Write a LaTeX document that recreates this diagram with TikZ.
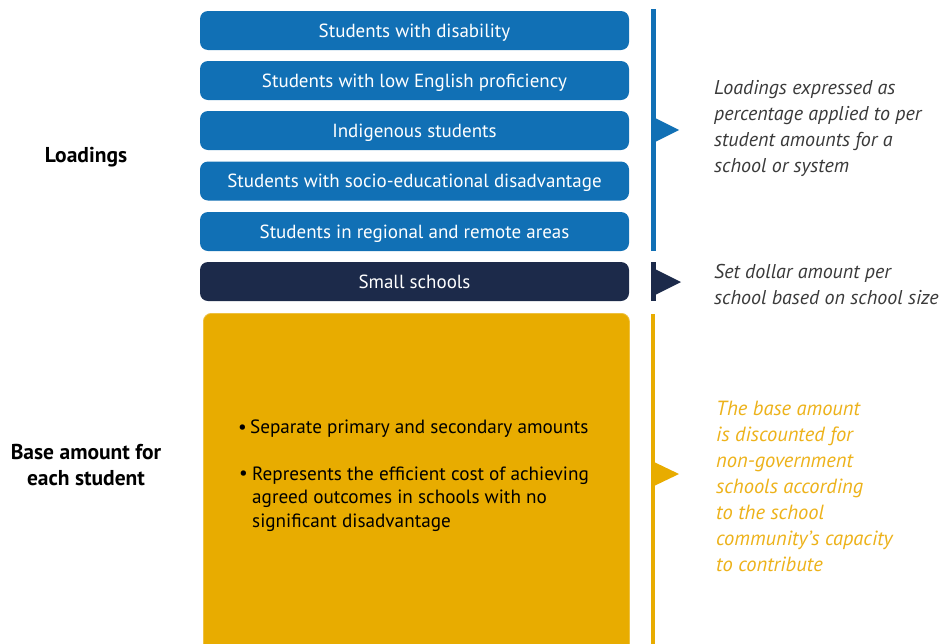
\documentclass[tikz,border=0pt]{standalone}
\usepackage{fontspec}
\setmainfont{PT Sans}
\definecolor{lblue}{HTML}{1170B5}
\definecolor{navy}{HTML}{1C2A4A}
\definecolor{yel}{HTML}{E8AC00}
\definecolor{yeltext}{HTML}{EDB21A}
\definecolor{graytext}{HTML}{3A3A3A}
\begin{document}
\begin{tikzpicture}[x=1pt,y=-1pt,
  bbox/.style={fill=lblue, rounded corners=8pt, minimum width=429pt, minimum height=39pt,
    text=white, font=\fontsize{19}{22}\selectfont, inner sep=0pt, text depth=0pt},
  nbox/.style={bbox, fill=navy},
  lab/.style={font=\fontsize{21.5}{26}\selectfont\bfseries, align=center, text=black},
  note/.style={font=\fontsize{20}{26}\selectfont\itshape, align=left, anchor=west, inner sep=0pt},
  btext/.style={font=\fontsize{19.2}{23.5}\selectfont, align=left, text=black, inner sep=0pt}]
\clip (0,0) rectangle (947,643);
\fill[white] (0,0) rectangle (947,643);
% loading boxes
\node[bbox] (b1) at (414.5,30.5) {Students with disability};
\node[bbox] (b2) at (414.5,80.5) {Students with low English proficiency};
\node[bbox] (b3) at (414.5,130.5) {Indigenous students};
\node[bbox] (b4) at (414.5,181) {Students with socio-educational disadvantage};
\node[bbox] (b5) at (414.5,231.5) {Students in regional and remote areas};
\node[nbox] (b6) at (414.5,281.5) {Small schools};
% base box
\node[fill=yel, draw=yel!75!white, line width=0.8pt, rounded corners=8pt, minimum width=426pt, minimum height=360pt, anchor=north west, inner sep=0pt] (base) at (203,313) {};
\node[btext, anchor=west] (t1) at (238,429) {•\,Separate primary and secondary amounts};
\node[btext, anchor=north west] (t2) at (252,466.5) {Represents the efficient cost of achieving\\agreed outcomes in schools with no\\significant disadvantage};
\node[btext, anchor=west] (t2b) at (239,475) {•};
% left labels
\node[lab] (l1) at (86,157) {Loadings};
\node[lab] (l2) at (86,465) {Base amount for\\each student};
% bars and pointers
\fill[lblue] (651,9) rectangle (656,251);
\fill[lblue] (655,118) -- (679,130) -- (655,142) -- cycle;
\fill[navy] (651,262) rectangle (656,301);
\fill[navy] (655,269) -- (681,282) -- (655,295) -- cycle;
\fill[yel] (651,314) rectangle (655,650);
\fill[yel] (654,462) -- (679,474) -- (654,486) -- cycle;
% notes
\node[note, text=graytext] (n1) at (714,128) {Loadings expressed as\\percentage applied to per\\student amounts for a\\school or system};
\node[note, text=graytext] (n2) at (714,284.5) {Set dollar amount per\\school based on school size};
\node[note, text=yeltext, font=\fontsize{20.5}{26}\selectfont\itshape] (n3) at (716,486) {The base amount\\is discounted for\\non-government\\schools according\\to the school\\community’s capacity\\to contribute};
\end{tikzpicture}
\end{document}
